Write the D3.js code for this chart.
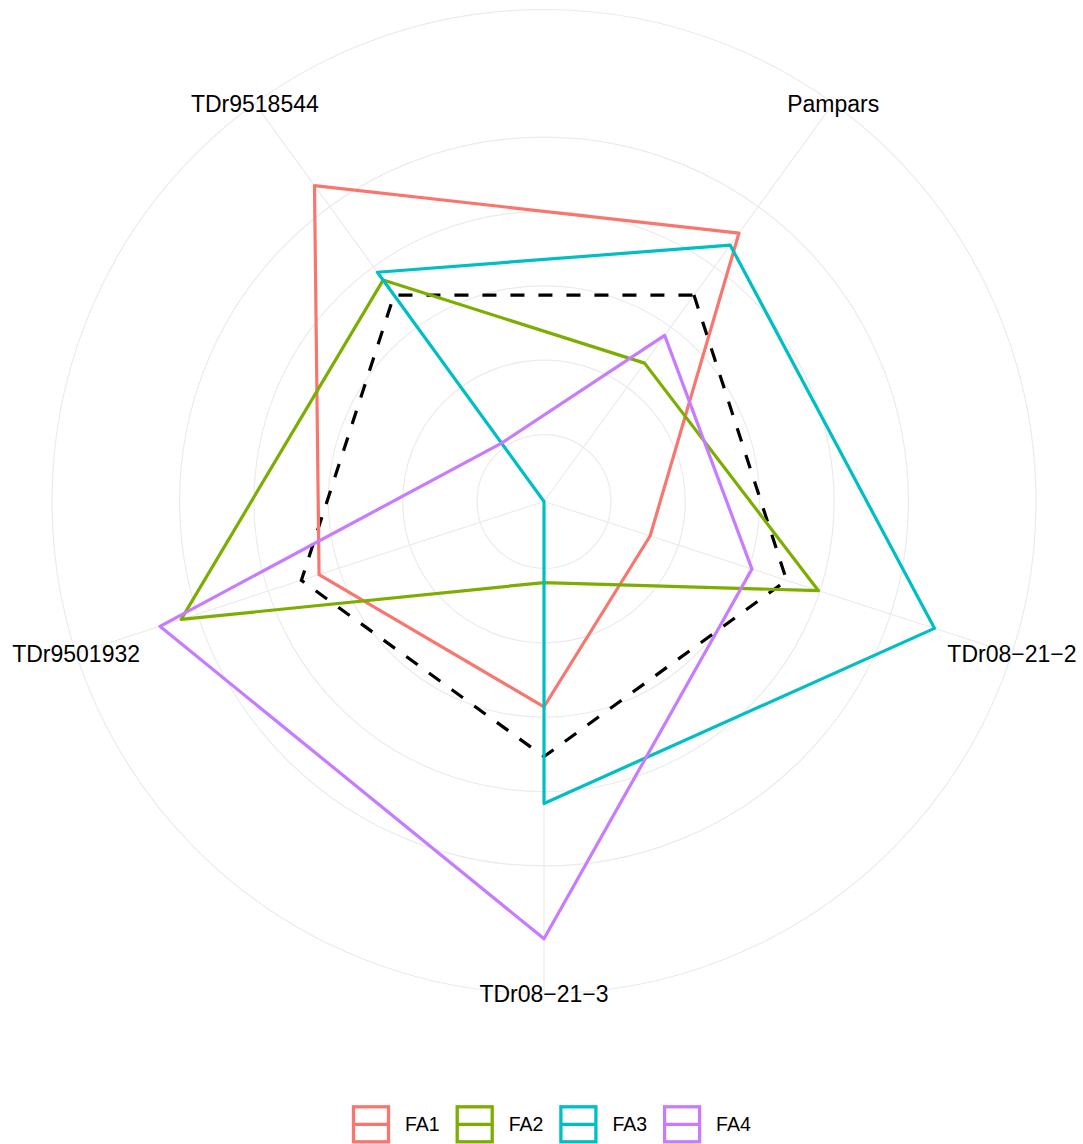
<!DOCTYPE html>
<html>
<head>
<meta charset="utf-8">
<script src="https://cdn.jsdelivr.net/npm/d3@7"></script>
<style>
  html, body { margin: 0; padding: 0; background: #fff; }
  svg { display: block; }
  text { font-family: "Liberation Sans", Arial, Helvetica, sans-serif; fill: #000; }
</style>
</head>
<body>
<svg id="chart" width="1083" height="1144"></svg>
<script>
// ---- data ----
const categories = ["Pampars", "TDr08\u221221\u22122", "TDr08\u221221\u22123", "TDr9501932", "TDr9518544"];
const seriesNames = ["FA1", "FA2", "FA3", "FA4"];
const FA1 = [4.56, 1.60, 2.86, 3.28, 5.35];
const FA2 = [2.40, 3.98, 1.19, 5.23, 3.78];
const FA3 = [4.36, 5.62, 4.16, 0.10, 3.91];
const FA4 = [2.86, 3.04, 5.98, 5.53, 1.07];
const reference = [3.53, 3.53, 3.53, 3.53, 3.53];
const gridBreaks = [1, 2, 3, 4, 5];
const seriesColors = ["#F8766D", "#7CAE00", "#00BFC4", "#C77CFF"];

const seriesValues = [FA1, FA2, FA3, FA4];

// ---- layout ----
const svg = d3.select("#chart");
const cx = 544, cy = 501.5;
const outerR = 492;             // 0.45 in polar units
const dataR = outerR * 0.4 / 0.45;

const allVals = seriesValues.flat().concat(reference);
const r = d3.scaleLinear()
  .domain([d3.min(allVals), d3.max(allVals)])
  .range([0, dataR]);

const theta = d3.scaleBand().domain(categories).range([0, 2 * Math.PI]).padding(0);
const ang = c => theta(c) + theta.bandwidth() / 2;

const g = svg.append("g").attr("transform", `translate(${cx},${cy})`);

// grid circles
const gridColor = "#EBEBEB";
g.selectAll("circle.grid")
  .data(gridBreaks.map(b => r(b)).concat([outerR]))
  .join("circle")
  .attr("class", "grid")
  .attr("r", d => d)
  .attr("fill", "none")
  .attr("stroke", gridColor)
  .attr("stroke-width", 1.2);

// spokes
g.selectAll("line.spoke")
  .data(categories)
  .join("line")
  .attr("class", "spoke")
  .attr("x1", 0).attr("y1", 0)
  .attr("x2", d => outerR * Math.sin(ang(d)))
  .attr("y2", d => -outerR * Math.cos(ang(d)))
  .attr("stroke", gridColor)
  .attr("stroke-width", 1.2);

// axis labels
g.selectAll("text.cat")
  .data(categories)
  .join("text")
  .attr("class", "cat")
  .attr("x", d => outerR * Math.sin(ang(d)))
  .attr("y", d => -outerR * Math.cos(ang(d)))
  .attr("dy", "0.36em")
  .attr("text-anchor", "middle")
  .attr("font-size", 23)
  .text(d => d);

const radial = d3.lineRadial()
  .angle((d, i) => ang(categories[i]))
  .radius(d => r(d))
  .curve(d3.curveLinearClosed);

// reference dashed polygon
g.append("path")
  .attr("d", radial(reference))
  .attr("fill", "none")
  .attr("stroke", "#000")
  .attr("stroke-width", 3.2)
  .attr("stroke-dasharray", "14,14");

// series polygons
g.selectAll("path.series")
  .data(seriesValues)
  .join("path")
  .attr("class", "series")
  .attr("d", d => radial(d))
  .attr("fill", "none")
  .attr("stroke", (d, i) => seriesColors[i])
  .attr("stroke-width", 3.2)
  .attr("stroke-linejoin", "round");

// legend
const legendX0 = 353.5, legendStep = 103.7, keyY = 1124.3, keySize = 35;
const leg = svg.append("g");
const items = leg.selectAll("g.item")
  .data(seriesNames)
  .join("g")
  .attr("class", "item")
  .attr("transform", (d, i) => `translate(${legendX0 + i * legendStep},${keyY})`);
items.append("rect")
  .attr("x", 0).attr("y", -keySize / 2)
  .attr("width", keySize).attr("height", keySize)
  .attr("fill", "none")
  .attr("stroke", (d, i) => seriesColors[i])
  .attr("stroke-width", 3.3);
items.append("line")
  .attr("x1", 0).attr("x2", keySize)
  .attr("y1", 0).attr("y2", 0)
  .attr("stroke", (d, i) => seriesColors[i])
  .attr("stroke-width", 3.3);
items.append("text")
  .attr("x", 51.5)
  .attr("y", 0)
  .attr("dy", "0.36em")
  .attr("font-size", 19.5)
  .text(d => d);
</script>
</body>
</html>
